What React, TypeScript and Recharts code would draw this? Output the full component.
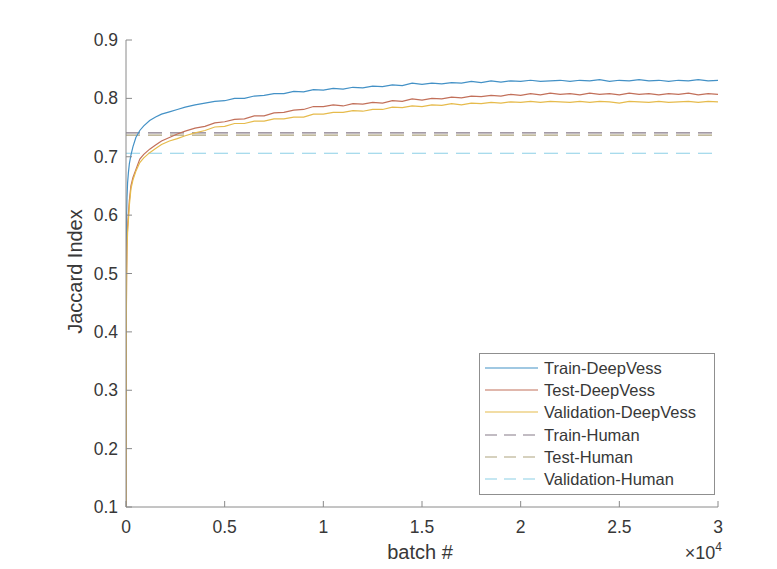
import React from 'react';
import { LineChart, Line, XAxis, YAxis, ReferenceLine, Legend } from 'recharts';

const batches = [
  0, 15, 30, 50, 80, 120, 170, 250, 350, 500, 700, 900, 1200, 1500, 1800, 2200, 2600, 3000, 3500,
  4000, 4500, 5000, 5500, 6000, 6500, 7000, 7500, 8000, 8500, 9000, 9500, 10000, 10500, 11000, 11500,
  12000, 12500, 13000, 13500, 14000, 14500, 15000, 15500, 16000, 16500, 17000, 17500, 18000, 18500,
  19000, 19500, 20000, 20500, 21000, 21500, 22000, 22500, 23000, 23500, 24000, 24500, 25000, 25500,
  26000, 26500, 27000, 27500, 28000, 28500, 29000, 29500, 30000,
];

const trainDeepVess = [
  0.1, 0.5, 0.6, 0.63, 0.655, 0.672, 0.688, 0.703, 0.717, 0.733, 0.745, 0.753, 0.762, 0.768, 0.773, 0.777, 0.781, 0.785, 0.789,
  0.792, 0.795, 0.796, 0.8, 0.8, 0.804, 0.805, 0.808, 0.808, 0.812, 0.811, 0.815, 0.814, 0.817, 0.816, 0.819,
  0.818, 0.821, 0.82, 0.823, 0.822, 0.826, 0.824, 0.826, 0.825, 0.827, 0.826, 0.829, 0.827, 0.83,
  0.828, 0.83, 0.829, 0.831, 0.829, 0.83, 0.831, 0.829, 0.831, 0.83, 0.832, 0.829, 0.831, 0.83,
  0.832, 0.83, 0.831, 0.829, 0.831, 0.83, 0.832, 0.83, 0.831,
];

const testDeepVess = [
  0.1, 0.42, 0.5, 0.55, 0.58, 0.6, 0.625, 0.65, 0.664, 0.678, 0.696, 0.704, 0.713, 0.72, 0.727, 0.733, 0.739, 0.744, 0.749,
  0.752, 0.758, 0.76, 0.764, 0.765, 0.77, 0.77, 0.775, 0.776, 0.78, 0.781, 0.786, 0.786, 0.789, 0.787, 0.791,
  0.79, 0.793, 0.792, 0.796, 0.795, 0.799, 0.797, 0.8, 0.799, 0.802, 0.801, 0.804, 0.803, 0.805,
  0.804, 0.807, 0.805, 0.808, 0.806, 0.809, 0.807, 0.808, 0.806, 0.809, 0.807, 0.808, 0.806, 0.809,
  0.807, 0.808, 0.806, 0.808, 0.807, 0.809, 0.806, 0.808, 0.807,
];

const validationDeepVess = [
  0.1, 0.41, 0.49, 0.54, 0.57, 0.59, 0.617, 0.645, 0.66, 0.675, 0.69, 0.698, 0.707, 0.714, 0.721, 0.727, 0.731, 0.736, 0.741,
  0.745, 0.751, 0.752, 0.757, 0.757, 0.761, 0.761, 0.765, 0.765, 0.768, 0.768, 0.773, 0.773, 0.776, 0.776, 0.779,
  0.778, 0.781, 0.781, 0.785, 0.784, 0.787, 0.786, 0.789, 0.788, 0.791, 0.789, 0.792, 0.791, 0.793,
  0.792, 0.794, 0.793, 0.795, 0.793, 0.795, 0.794, 0.793, 0.795, 0.793, 0.795, 0.794, 0.792, 0.795,
  0.794, 0.793, 0.795, 0.793, 0.794, 0.795, 0.793, 0.795, 0.794,
];

const trainHuman = 0.741;
const testHuman = 0.737;
const validationHuman = 0.706;

const xTicks = [0, 5000, 10000, 15000, 20000, 25000, 30000];
const yTicks = [0.1, 0.2, 0.3, 0.4, 0.5, 0.6, 0.7, 0.8, 0.9];

const seriesNames = ['Train-DeepVess', 'Test-DeepVess', 'Validation-DeepVess', 'Train-Human', 'Test-Human', 'Validation-Human'];
const seriesColors = ['#4391c6', '#c2705a', '#e6bb4c', '#857a88', '#ada37e', '#8cd0e6'];
const seriesDashed = [false, false, false, true, true, true];

const data = batches.map((b, i) => ({
  batch: b,
  train: trainDeepVess[i],
  test: testDeepVess[i],
  validation: validationDeepVess[i],
}));

const FONT = '"Liberation Sans", Arial, sans-serif';
const TEXT = '#383838';
const AXIS = '#8a8a8a';
const Y_MARGIN = 8;
const X_MARGIN = 12;

const YTick = (props: any) => {
  const { x, y, payload } = props;
  const ax = x + Y_MARGIN;
  return (
    <g>
      <line x1={ax} y1={y} x2={ax + 6} y2={y} stroke={AXIS} strokeWidth={1} />
      <text x={x} y={y + 6} textAnchor="end" fontSize={17.5} fontFamily={FONT} fill={TEXT}>
        {String(payload.value)}
      </text>
    </g>
  );
};

const XTick = (props: any) => {
  const { x, y, payload } = props;
  const ay = y - X_MARGIN;
  return (
    <g>
      <line x1={x} y1={ay} x2={x} y2={ay - 6} stroke={AXIS} strokeWidth={1} />
      <text x={x} y={y + 14} textAnchor="middle" fontSize={17.5} fontFamily={FONT} fill={TEXT}>
        {String(payload.value / 10000)}
      </text>
    </g>
  );
};

const XLabel = (props: any) => {
  const vb = props.viewBox || {};
  const cx = vb.x + vb.width / 2;
  const right = vb.x + vb.width;
  return (
    <g>
      <text x={cx - 2} y={vb.y + 52} textAnchor="middle" fontSize={20} fontFamily={FONT} fill={TEXT}>
        batch #
      </text>
      <text x={right + 4} y={vb.y + 52} textAnchor="end" fontSize={18} fontFamily={FONT} fill={TEXT}>
        ×10
        <tspan fontSize={12} dy={-8}>4</tspan>
      </text>
    </g>
  );
};

const YLabel = (props: any) => {
  const vb = props.viewBox || {};
  const cx = vb.x + 9;
  const cy = vb.y + vb.height / 2 - 2;
  return (
    <text
      x={cx}
      y={cy}
      transform={`rotate(-90 ${cx} ${cy})`}
      textAnchor="middle"
      dominantBaseline="central"
      fontSize={20}
      fontFamily={FONT}
      fill={TEXT}
    >
      Jaccard Index
    </text>
  );
};

const LegendBox = () => (
  <div
    style={{
      width: 234,
      height: 137,
      border: '1px solid #8f8f8f',
      background: '#ffffff',
      boxSizing: 'content-box',
      paddingTop: 3,
    }}
  >
    {seriesNames.map((name, i) => (
      <div key={name} style={{ height: 22.2, display: 'flex', alignItems: 'center' }}>
        <svg width={64} height={10} style={{ display: 'block' }}>
          <line
            x1={5}
            y1={5}
            x2={58}
            y2={5}
            stroke={seriesColors[i]}
            strokeWidth={1.2}
            strokeDasharray={seriesDashed[i] ? '12 7' : undefined}
          />
        </svg>
        <span style={{ fontFamily: FONT, fontSize: 16.5, color: TEXT, lineHeight: '16px' }}>{name}</span>
      </div>
    ))}
  </div>
);

export default function App() {
  return (
    <div style={{ width: 777, height: 569, background: '#ffffff' }}>
      <style>{`body{margin:0;background:#fff;}`}</style>
      <LineChart width={777} height={569} data={data} margin={{ top: 40, right: 59, left: 66, bottom: 32 }}>
        <XAxis
          dataKey="batch"
          type="number"
          domain={[0, 30000]}
          ticks={xTicks}
          tick={<XTick />}
          tickSize={0}
          tickMargin={X_MARGIN}
          tickLine={false}
          height={30}
          stroke={AXIS}
          interval={0}
          label={<XLabel />}
          allowDataOverflow
        />
        <YAxis
          type="number"
          domain={[0.1, 0.9]}
          ticks={yTicks}
          tick={<YTick />}
          tickSize={0}
          tickMargin={Y_MARGIN}
          tickLine={false}
          width={60}
          stroke={AXIS}
          interval={0}
          label={<YLabel />}
          allowDataOverflow
        />
        <ReferenceLine y={trainHuman} stroke={seriesColors[3]} strokeDasharray="14 8" strokeWidth={1.2} />
        <ReferenceLine y={testHuman} stroke={seriesColors[4]} strokeDasharray="14 8" strokeWidth={1.2} />
        <ReferenceLine y={validationHuman} stroke={seriesColors[5]} strokeDasharray="14 8" strokeWidth={1.2} />
        <Line dataKey="train" stroke={seriesColors[0]} strokeWidth={1.2} dot={false} isAnimationActive={false} />
        <Line dataKey="test" stroke={seriesColors[1]} strokeWidth={1.2} dot={false} isAnimationActive={false} />
        <Line dataKey="validation" stroke={seriesColors[2]} strokeWidth={1.2} dot={false} isAnimationActive={false} />
        <Legend
          layout="vertical"
          align="center"
          verticalAlign="middle"
          content={<LegendBox />}
          wrapperStyle={{ left: 479, top: 353, width: 236, height: 141, bottom: 'auto', right: 'auto' }}
        />
      </LineChart>
    </div>
  );
}
